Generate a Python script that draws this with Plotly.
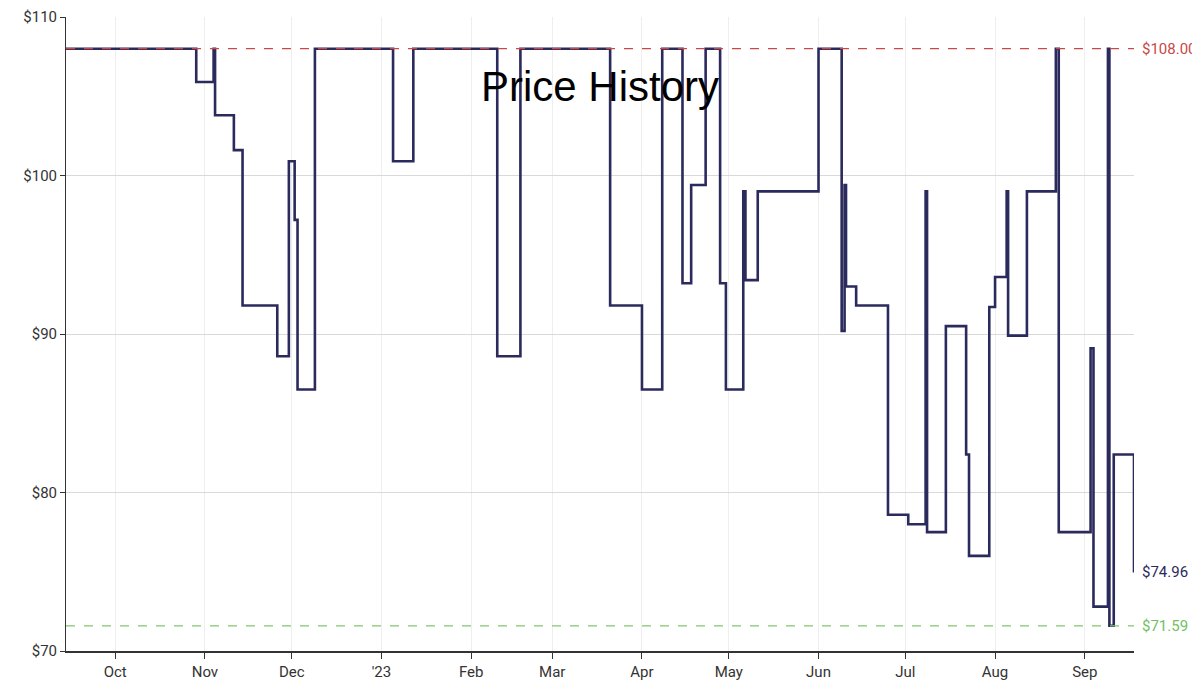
import plotly.graph_objects as go

dates = ["2022-09-14", "2022-10-29", "2022-11-04", "2022-11-04 12:00", "2022-11-11", "2022-11-14",
         "2022-11-26", "2022-11-30", "2022-12-02", "2022-12-03", "2022-12-09", "2023-01-05",
         "2023-01-12", "2023-02-10", "2023-02-18", "2023-03-21", "2023-04-01", "2023-04-08",
         "2023-04-15", "2023-04-18", "2023-04-23", "2023-04-28", "2023-04-30", "2023-05-06",
         "2023-05-06 18:00", "2023-05-11", "2023-06-01", "2023-06-09", "2023-06-10",
         "2023-06-10 12:00", "2023-06-14", "2023-06-25", "2023-07-02", "2023-07-08",
         "2023-07-08 12:00", "2023-07-15", "2023-07-22", "2023-07-23", "2023-07-30",
         "2023-08-01", "2023-08-05", "2023-08-05 12:00", "2023-08-12", "2023-08-22",
         "2023-08-23", "2023-09-03", "2023-09-04", "2023-09-09", "2023-09-09 12:00",
         "2023-09-11", "2023-09-18"]
prices = [108, 105.9, 108, 103.8, 101.6, 91.8,
          88.6, 100.9, 97.2, 86.5, 108, 100.9,
          108, 88.6, 108, 91.8, 86.5, 108,
          93.2, 99.4, 108, 93.2, 86.5, 99,
          93.4, 99, 108, 90.2, 99.4,
          93, 91.8, 78.6, 78, 99,
          77.5, 90.5, 82.4, 76, 91.7,
          93.6, 99, 89.9, 99, 108,
          77.5, 89.1, 72.8, 108, 71.59,
          82.4, 74.96]

high_price = 108.00
low_price = 71.59
last_price = 74.96
y_ticks = [70, 80, 90, 100, 110]
y_labels = ["$70", "$80", "$90", "$100", "$110"]
month_ticks = ["2022-10-01", "2022-11-01", "2022-12-01", "2023-01-01", "2023-02-01", "2023-03-01",
               "2023-04-01", "2023-05-01", "2023-06-01", "2023-07-01", "2023-08-01", "2023-09-01"]
month_labels = ["Oct", "Nov", "Dec", "'23", "Feb", "Mar", "Apr", "May", "Jun", "Jul", "Aug", "Sep"]

navy = "#2b2a5c"
fig = go.Figure()
fig.add_trace(go.Scatter(x=dates, y=prices, mode="lines", line=dict(color=navy, width=2.6, shape="hv"),
                         showlegend=False))

fig.add_hline(y=high_price, line=dict(color="#c94848", width=1.3, dash="dash"))
fig.add_hline(y=low_price, line=dict(color="#80c870", width=1.3, dash="dash"))

for val, col in [(high_price, "#c94848"), (low_price, "#72c062"), (last_price, navy)]:
    fig.add_annotation(x=1, xref="paper", y=val, yref="y", text=f"${val:.2f}", showarrow=False,
                       xanchor="left", xshift=6, font=dict(color=col, size=15, family="Roboto"))

fig.add_annotation(x=0.5, xref="paper", y=105.6, yref="y", text="Price History", showarrow=False,
                   font=dict(size=42, color="black", family="Liberation Sans, Arial"))

fig.update_layout(
    width=1200, height=681,
    margin=dict(l=58, r=74, t=9, b=38, autoexpand=False),
    plot_bgcolor="white", paper_bgcolor="white",
    font=dict(family="Roboto", size=15, color="#333"),
)
fig.update_xaxes(range=["2022-09-14", "2023-09-18"], tickvals=month_ticks, ticktext=month_labels,
                 showgrid=True, gridcolor="#eeeeee", ticks="outside", ticklen=6, tickcolor="#333",
                 showline=True, linecolor="#333", linewidth=1.5)
fig.update_yaxes(range=[70, 110], tickvals=y_ticks, ticktext=y_labels, showgrid=True,
                 gridcolor="#d9d9d9", ticks="outside", ticklen=5, tickcolor="#333",
                 showline=True, linecolor="#333", linewidth=1, zeroline=False)

fig.write_html("out.html")
